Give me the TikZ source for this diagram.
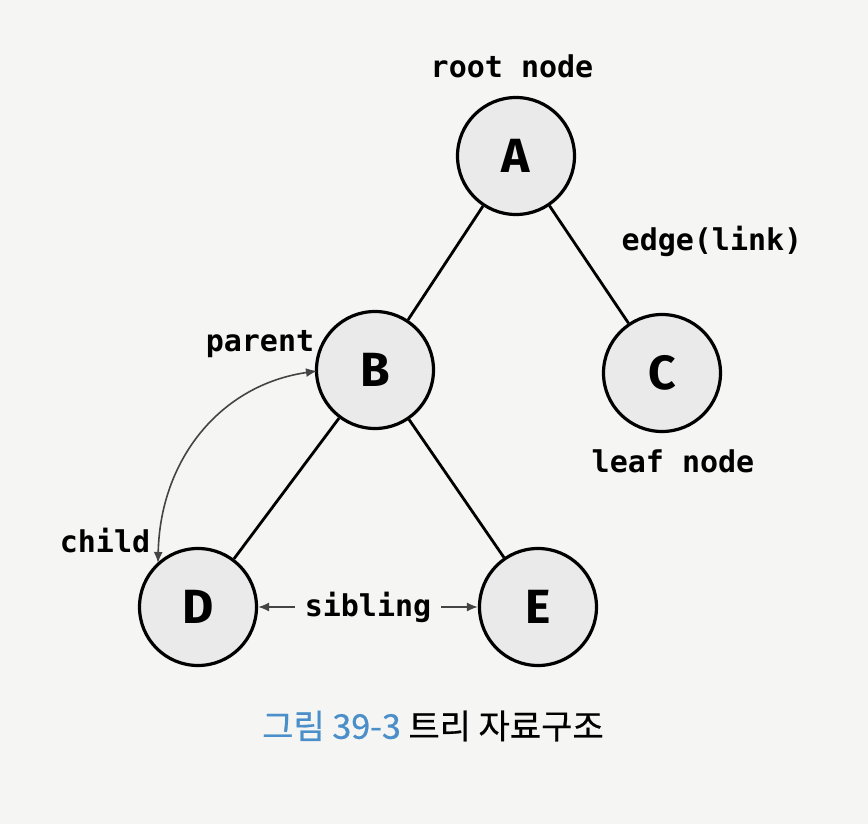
\documentclass[tikz,border=0pt]{standalone}
\usepackage{fontspec}
\setmainfont{Fira Sans}
\setmonofont{DejaVu Sans Mono}
\newfontfamily\cjk[FakeBold=0.6]{Noto Sans CJK KR}
\usetikzlibrary{arrows.meta}
\definecolor{pagebg}{HTML}{F5F5F4}
\definecolor{nodefill}{HTML}{EAEAEA}
\definecolor{capblue}{HTML}{4A8FC9}
\definecolor{arrowgray}{HTML}{444444}
\tikzset{
  treenode/.style={circle, draw=black, line width=3.2pt, fill=nodefill, minimum size=117pt, inner sep=0pt,
    font=\fontsize{48}{52}\selectfont\bfseries},
  treeedge/.style={draw=black, line width=2.8pt},
  lbl/.style={font=\fontsize{30}{33}\selectfont\ttfamily\bfseries, inner sep=0pt},
  relarrow/.style={draw=arrowgray, line width=1.6pt, {Latex[length=11pt,width=9pt]}-{Latex[length=11pt,width=9pt]}},
}
\begin{document}
\begin{tikzpicture}[x=1pt,y=-1pt]
\fill[pagebg] (0,0) rectangle (868,824);
\useasboundingbox (0,0) rectangle (868,824);
\node[treenode] (A) at (516,156) {A};
\node[treenode] (B) at (375,370) {B};
\node[treenode] (C) at (662,373) {C};
\node[treenode] (D) at (198,607) {D};
\node[treenode] (E) at (538,607) {E};
\draw[treeedge] (A) -- (B);
\draw[treeedge] (A) -- (C);
\draw[treeedge] (B) -- (D);
\draw[treeedge] (B) -- (E);
\node[lbl] (lroot) at (512,66) {root node};
\node[lbl] (ledge) at (712,241) {edge(link)};
\node[lbl] (lparent) at (260,344) {parent};
\node[lbl] (lleaf) at (673,461) {leaf node};
\node[lbl] (lchild) at (105,541) {child};
\coordinate (bw) at (317,371);
\coordinate (dn) at (158,563);
\draw[relarrow] (dn) .. controls (160,460) and (220,385) .. (bw);
\draw[relarrow] (D) -- node[lbl, fill=pagebg, inner xsep=10pt, inner ysep=4pt] (lsib) {sibling} (E);
\node[font=\fontsize{34}{38}\selectfont\cjk, anchor=center] (cap) at (433,726) {\textcolor{capblue}{그림 39-3}\ 트리 자료구조};
\end{tikzpicture}
\end{document}
